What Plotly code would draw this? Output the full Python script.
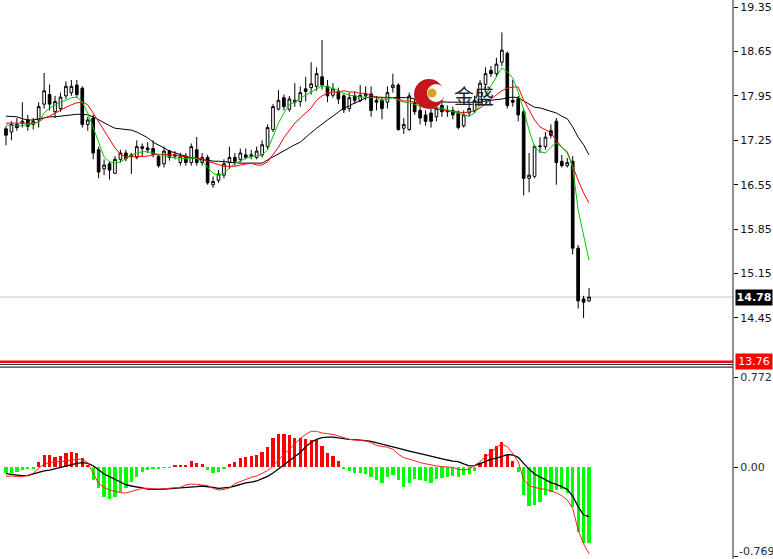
import plotly.graph_objects as go

# ---------------- data ----------------
opens = [17.43,17.38,17.50,17.52,17.57,17.50,17.57,17.82,17.97,17.70,
         17.75,17.95,18.00,18.12,18.07,17.50,17.60,17.10,16.80,16.88,
         16.73,16.95,17.05,17.00,16.98,17.12,17.13,17.12,17.00,16.88,
         17.08,17.00,16.90,17.00,16.90,17.10,16.90,16.98,16.55,16.62,
         16.70,16.90,16.98,16.95,17.02,17.00,16.98,17.02,17.15,17.42,
         17.74,17.92,17.74,17.85,17.86,18.06,18.08,18.10,18.25,18.10,
         17.96,18.02,17.95,17.75,17.95,17.88,17.95,17.98,17.88,17.88,
         17.85,18.08,18.12,17.44,17.42,17.85,17.72,17.65,17.68,17.62,
         17.80,17.72,17.72,17.68,17.48,17.68,17.72,17.85,18.13,18.35,
         18.30,18.48,18.62,17.88,17.90,17.70,16.65,16.68,17.15,17.15,
         17.40,17.55,16.92,16.85,16.92,15.55,14.75,14.72]
highs = [17.47,17.55,17.60,17.85,17.65,17.60,17.85,18.31,18.13,17.95,
         18.00,18.18,18.20,18.20,18.10,17.62,17.65,17.15,16.95,16.92,
         17.00,17.10,17.10,17.05,17.25,17.20,17.22,17.25,17.03,17.15,
         17.10,17.08,17.05,17.05,17.20,17.30,17.05,17.02,16.68,16.78,
         16.95,17.15,17.05,17.12,17.12,17.10,17.15,17.25,17.50,17.82,
         18.04,17.97,17.95,18.15,18.10,18.25,18.48,18.40,18.83,18.20,
         18.15,18.08,17.98,18.00,18.02,18.12,18.10,18.10,17.95,17.92,
         18.10,18.30,18.15,17.60,18.00,17.90,17.80,17.72,17.75,17.80,
         17.85,17.80,17.78,17.72,17.72,17.85,17.95,18.20,18.40,18.42,
         18.55,18.95,18.65,18.20,17.95,17.75,17.05,17.18,17.30,17.38,
         17.50,17.60,17.02,16.97,17.00,15.60,14.80,14.92]
lows = [17.17,17.25,17.40,17.45,17.40,17.42,17.45,17.75,17.72,17.60,
        17.70,17.90,17.95,17.92,17.45,17.40,16.95,16.65,16.70,16.63,
        16.72,16.90,16.92,16.72,16.95,17.00,17.05,16.98,16.82,16.82,
        16.93,16.95,16.85,16.85,16.85,16.85,16.85,16.55,16.50,16.58,
        16.65,16.80,16.85,16.90,16.95,16.95,16.95,16.98,17.10,17.38,
        17.72,17.72,17.70,17.78,17.78,17.86,17.97,18.03,18.05,17.85,
        17.92,17.82,17.68,17.70,17.82,17.85,17.88,17.62,17.72,17.58,
        17.75,18.00,17.40,17.35,17.40,17.65,17.50,17.48,17.45,17.55,
        17.62,17.62,17.58,17.42,17.45,17.62,17.68,17.80,18.05,18.25,
        18.25,18.42,17.75,17.78,17.55,16.38,16.43,16.65,17.05,17.10,
        17.28,16.55,16.82,16.82,15.45,14.60,14.45,14.70]
closes = [17.33,17.50,17.45,17.55,17.47,17.55,17.78,18.03,17.82,17.86,
          17.93,18.10,18.10,17.97,17.50,17.57,17.05,16.75,16.86,16.78,
          16.95,17.05,16.96,17.02,17.15,17.15,17.10,17.03,16.85,17.08,
          16.98,17.02,17.00,16.90,17.15,16.90,16.98,16.58,16.60,16.72,
          16.88,16.98,16.92,17.05,16.98,17.02,17.08,17.18,17.45,17.78,
          17.88,17.78,17.90,17.88,18.00,18.02,18.14,18.30,18.12,17.95,
          18.06,17.90,17.73,17.92,17.88,17.96,17.98,17.72,17.85,17.75,
          18.00,18.12,17.42,17.50,17.95,17.70,17.60,17.55,17.55,17.75,
          17.70,17.70,17.65,17.45,17.65,17.75,17.88,18.15,18.30,18.30,
          18.45,18.67,17.80,17.85,17.65,16.65,16.70,17.15,17.16,17.30,
          17.33,16.90,16.85,16.90,15.55,14.72,14.70,14.78]

ma_fast = [17.49,17.48,17.48,17.48,17.49,17.51,17.54,17.68,17.76,17.81,
           17.85,17.88,17.92,17.93,17.85,17.68,17.46,17.21,16.99,16.91,
           16.89,16.91,16.97,17.02,17.05,17.07,17.07,17.05,17.02,17.00,
           16.99,16.97,16.97,16.96,16.97,16.96,16.92,16.83,16.73,16.70,
           16.73,16.81,16.89,16.92,16.97,16.99,17.00,17.02,17.10,17.30,
           17.52,17.68,17.81,17.85,17.92,17.96,18.01,18.07,18.11,18.09,
           18.07,18.04,17.99,17.96,17.95,17.93,17.93,17.92,17.92,17.88,
           17.90,17.92,17.88,17.85,17.84,17.81,17.79,17.77,17.77,17.76,
           17.76,17.73,17.70,17.68,17.65,17.63,17.68,17.81,17.96,18.12,
           18.25,18.39,18.33,18.23,18.01,17.73,17.41,17.14,17.07,17.05,
           17.14,17.21,17.14,17.05,16.83,16.15,15.73,15.36]
ma_mid = [17.52,17.52,17.52,17.51,17.51,17.52,17.54,17.60,17.63,17.68,
          17.73,17.77,17.81,17.84,17.85,17.81,17.68,17.54,17.41,17.25,
          17.13,17.03,16.99,16.99,16.99,16.99,17.00,17.02,17.03,17.03,
          17.02,17.02,17.00,16.99,16.99,16.97,16.96,16.92,16.89,16.86,
          16.84,16.84,16.84,16.86,16.88,16.89,16.86,16.86,16.91,17.02,
          17.14,17.29,17.41,17.52,17.60,17.68,17.76,17.88,17.95,17.99,
          18.01,18.01,18.03,18.01,18.01,17.99,17.99,17.96,17.93,17.92,
          17.92,17.92,17.90,17.87,17.87,17.85,17.82,17.79,17.76,17.74,
          17.73,17.71,17.70,17.70,17.68,17.70,17.71,17.76,17.82,17.90,
          17.96,18.03,18.07,18.09,18.09,17.88,17.73,17.57,17.46,17.41,
          17.37,17.25,17.14,17.07,16.83,16.62,16.42,16.26]
ma_slow = [17.63,17.63,17.62,17.59,17.57,17.57,17.59,17.60,17.62,17.62,
           17.63,17.65,17.65,17.66,17.66,17.65,17.62,17.57,17.52,17.48,
           17.44,17.43,17.43,17.41,17.38,17.33,17.29,17.22,17.18,17.13,
           17.08,17.05,17.02,16.99,16.97,16.96,16.94,16.94,16.92,16.92,
           16.91,16.91,16.89,16.89,16.89,16.89,16.89,16.89,16.94,16.99,
           17.03,17.08,17.14,17.18,17.22,17.30,17.37,17.44,17.51,17.57,
           17.63,17.70,17.76,17.79,17.84,17.87,17.92,17.93,17.93,17.93,
           17.93,17.93,17.93,17.92,17.92,17.90,17.88,17.88,17.87,17.87,
           17.85,17.85,17.85,17.85,17.85,17.85,17.85,17.85,17.87,17.88,
           17.88,17.90,17.92,17.93,17.92,17.87,17.82,17.77,17.76,17.73,
           17.71,17.68,17.63,17.59,17.46,17.30,17.18,17.02]

macd_hist = [-0.054,-0.049,-0.040,-0.026,-0.020,-0.009,0.040,0.103,0.103,0.089,
             0.094,0.117,0.132,0.123,0.074,0.017,-0.112,-0.183,-0.254,-0.277,
             -0.254,-0.212,-0.183,-0.126,-0.083,-0.040,-0.026,-0.020,-0.011,-0.006,
             -0.003,0.011,0.017,0.009,0.051,0.031,0.026,-0.026,-0.049,-0.040,
             -0.020,0.023,0.040,0.074,0.083,0.094,0.103,0.132,0.174,0.246,
             0.283,0.283,0.274,0.246,0.246,0.237,0.232,0.232,0.180,0.117,
             0.094,0.051,-0.020,-0.031,-0.049,-0.049,-0.060,-0.089,-0.112,-0.134,
             -0.089,-0.066,-0.112,-0.174,-0.140,-0.106,-0.112,-0.120,-0.134,-0.106,
             -0.091,-0.083,-0.077,-0.089,-0.069,-0.060,-0.031,0.037,0.112,0.152,
             0.180,0.217,0.103,0.054,-0.040,-0.240,-0.335,-0.326,-0.297,-0.240,
             -0.212,-0.197,-0.192,-0.226,-0.340,-0.555,-0.655,-0.655]
macd_dif = [-0.080,-0.077,-0.083,-0.083,-0.071,-0.054,-0.011,0.026,0.037,0.046,
            0.046,0.054,0.063,0.066,0.066,0.037,-0.054,-0.140,-0.177,-0.197,
            -0.209,-0.220,-0.223,-0.209,-0.197,-0.183,-0.183,-0.189,-0.189,-0.186,
            -0.183,-0.183,-0.174,-0.154,-0.146,-0.149,-0.154,-0.160,-0.183,-0.197,
            -0.192,-0.180,-0.143,-0.123,-0.103,-0.089,-0.077,-0.057,-0.031,0.009,
            0.060,0.109,0.150,0.195,0.245,0.280,0.306,0.306,0.292,0.286,
            0.280,0.266,0.249,0.237,0.232,0.229,0.223,0.209,0.186,0.177,
            0.169,0.152,0.109,0.080,0.069,0.054,0.037,0.026,0.017,0.009,
            0.003,0.003,-0.003,-0.020,-0.026,-0.017,0.017,0.046,0.089,0.117,
            0.169,0.197,0.174,0.117,0.046,-0.106,-0.163,-0.177,-0.186,-0.192,
            -0.203,-0.220,-0.246,-0.283,-0.355,-0.540,-0.660,-0.745]
macd_dea = [-0.057,-0.060,-0.069,-0.074,-0.074,-0.060,-0.046,-0.034,-0.026,-0.014,
            -0.003,0.009,0.020,0.031,0.037,0.031,0.011,-0.026,-0.060,-0.083,
            -0.106,-0.129,-0.152,-0.163,-0.169,-0.180,-0.189,-0.192,-0.192,-0.189,
            -0.186,-0.183,-0.183,-0.180,-0.174,-0.169,-0.163,-0.166,-0.174,-0.183,
            -0.180,-0.174,-0.163,-0.149,-0.137,-0.129,-0.120,-0.100,-0.080,-0.051,
            -0.017,0.017,0.049,0.085,0.125,0.174,0.212,0.237,0.252,0.257,
            0.257,0.249,0.240,0.237,0.234,0.232,0.226,0.220,0.209,0.194,
            0.183,0.177,0.163,0.149,0.137,0.123,0.114,0.103,0.091,0.083,
            0.071,0.060,0.051,0.046,0.026,0.009,0.011,0.031,0.049,0.066,
            0.077,0.094,0.106,0.103,0.083,0.031,-0.020,-0.060,-0.083,-0.112,
            -0.134,-0.149,-0.169,-0.192,-0.249,-0.340,-0.412,-0.425]

price_ticks = [19.35, 18.65, 17.95, 17.25, 16.55, 15.85, 15.15, 14.45]
macd_ticks = [0.772, 0.00, -0.769]
macd_tick_text = ["0.772", "0.00", "-0.769"]
level_line = 13.76
logo_text = "金盛"

# ---------------- figure ----------------
W, H = 773, 559
AX = 733 / W
idx = list(range(len(closes)))
last_close = closes[-1]

fig = go.Figure()

fig.add_trace(go.Candlestick(
    x=idx, open=opens, high=highs, low=lows, close=closes,
    increasing=dict(line=dict(color="black", width=1), fillcolor="white"),
    decreasing=dict(line=dict(color="black", width=1), fillcolor="black"),
    whiskerwidth=0, xaxis="x", yaxis="y", hoverinfo="skip", showlegend=False))

for vals, col in [(ma_slow, "#000000"), (ma_mid, "#ff0000"), (ma_fast, "#00c800")]:
    fig.add_trace(go.Scatter(x=idx, y=vals, mode="lines",
                             line=dict(color=col, width=1),
                             xaxis="x", yaxis="y", hoverinfo="skip", showlegend=False))

bar_colors = ["#ff0000" if v >= 0 else "#00ff00" for v in macd_hist]
fig.add_trace(go.Bar(x=idx, y=macd_hist, marker=dict(color=bar_colors, line=dict(width=0)),
                     width=0.6, xaxis="x", yaxis="y2", hoverinfo="skip", showlegend=False))
fig.add_trace(go.Scatter(x=idx, y=macd_dea, mode="lines", line=dict(color="#000000", width=1.3),
                         xaxis="x", yaxis="y2", hoverinfo="skip", showlegend=False))
fig.add_trace(go.Scatter(x=idx, y=macd_dif, mode="lines", line=dict(color="#ff2020", width=1),
                         xaxis="x", yaxis="y2", hoverinfo="skip", showlegend=False))

px_per_bar = 5.449
x_left = -6 / px_per_bar
x_right = x_left + 733 / px_per_bar

price_top = 19.35 + 7 * 0.015756
price_bot = 19.35 - 356 * 0.015756
macd_scale = 0.772 / 90
macd_top = (467 - 368) * macd_scale
macd_bot = (467 - 559) * macd_scale

tickfont = dict(family="DejaVu Sans", size=11, color="#111111")
macdfont = dict(family="DejaVu Sans", size=11, color="#1a2a40")

fig.update_layout(
    width=W, height=H, margin=dict(l=0, r=0, t=0, b=0),
    paper_bgcolor="white", plot_bgcolor="white",
    showlegend=False, bargap=0,
    xaxis=dict(domain=[0, AX], range=[x_left, x_right], showgrid=False, zeroline=False,
               showticklabels=False, ticks="", rangeslider=dict(visible=False), anchor="y2"),
    yaxis=dict(domain=[1 - 363 / H, 1], range=[price_bot, price_top], side="right",
               anchor="x", tickvals=price_ticks, ticktext=[f"{v:.2f}" for v in price_ticks],
               ticks="outside", ticklen=4, tickcolor="#000", showgrid=False, zeroline=False,
               tickfont=tickfont, showline=False),
    yaxis2=dict(domain=[0, 1 - 368 / H], range=[macd_bot, macd_top], side="right",
                anchor="x", tickvals=macd_ticks, ticktext=macd_tick_text[:2] + [""],
                ticks="outside", ticklen=4, tickcolor="#000", showgrid=False, zeroline=False,
                tickfont=macdfont, showline=False),
)

shapes = []
shapes.append(dict(type="line", xref="paper", yref="y", x0=0, x1=AX, y0=last_close, y1=last_close,
                   line=dict(color="#c0c0c0", width=1), layer="below"))
shapes.append(dict(type="line", xref="paper", yref="y", x0=0, x1=AX, y0=level_line, y1=level_line,
                   line=dict(color="#ff0000", width=2.5)))
for yy in (364.5, 367.2):
    shapes.append(dict(type="line", xref="paper", yref="paper", x0=0, x1=AX,
                       y0=1 - yy / H, y1=1 - yy / H, line=dict(color="#333333", width=1.2)))
shapes.append(dict(type="line", xref="paper", yref="paper", x0=AX, x1=AX, y0=0, y1=1,
                   line=dict(color="#222222", width=1)))
cx, cy = 429 / W, 1 - 94 / H
for (dx, dy, r, col) in [(0, 0, 15, "#c4161c"), (7, 1, 9, "#ffffff"), (3, 1, 4.5, "#d4a520")]:
    shapes.append(dict(type="circle", xref="paper", yref="paper", xsizemode="pixel", ysizemode="pixel",
                       xanchor=cx, yanchor=cy, x0=dx - r, x1=dx + r, y0=dy - r, y1=dy + r,
                       fillcolor=col, line=dict(width=0)))
fig.update_layout(shapes=shapes)

annotations = [
    dict(xref="paper", yref="y", x=AX + 2 / W, y=last_close, xanchor="left", yanchor="middle",
         text=f"<b>{last_close:.2f}</b>", showarrow=False, bgcolor="#000000",
         font=dict(family="DejaVu Sans", size=11, color="white"), borderpad=1, width=34),
    dict(xref="paper", yref="y", x=AX + 2 / W, y=level_line, xanchor="left", yanchor="middle",
         text=f"{level_line:.2f}", showarrow=False, bgcolor="#ff0000",
         font=dict(family="DejaVu Sans", size=11, color="white"), borderpad=1, width=34),
    dict(xref="paper", yref="paper", x=AX + 5 / W, y=0, xanchor="left", yanchor="bottom",
         text=macd_tick_text[2], showarrow=False, font=macdfont, borderpad=0),
    dict(xref="paper", yref="paper", x=452 / W, y=1 - 95 / H, xanchor="left", yanchor="middle",
         text=logo_text, showarrow=False,
         font=dict(family="Noto Sans CJK SC", size=20, color="#222222")),
]
fig.update_layout(annotations=annotations)

fig.write_html("out.html", config={"displayModeBar": False},
               post_script="document.body.style.margin='0';document.body.style.overflow='hidden';")
